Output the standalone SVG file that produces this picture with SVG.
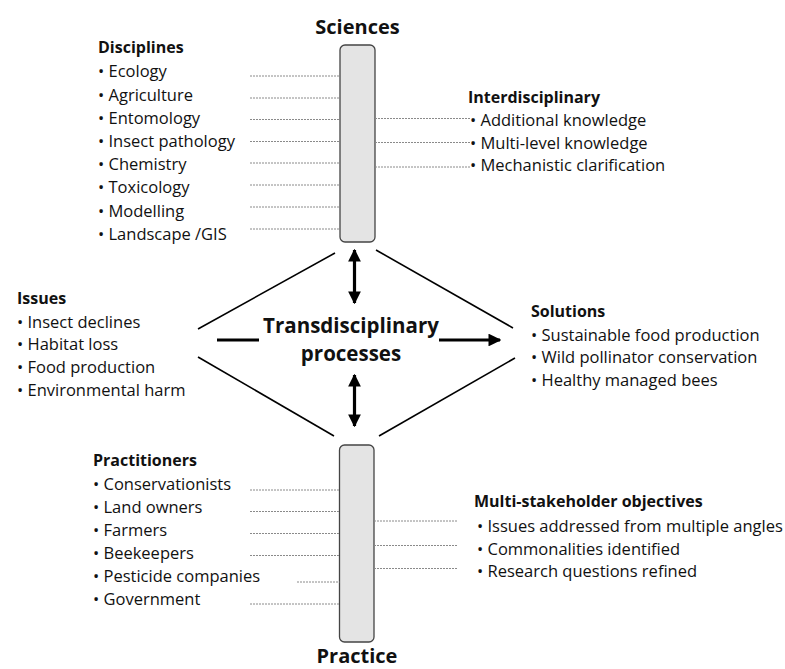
<svg xmlns="http://www.w3.org/2000/svg" width="785" height="669" viewBox="0 0 785 669">
<defs>
<style>
.t{font-family:"Open Sans","Liberation Sans",sans-serif;font-size:16.5px;fill:#111}
.h{font-family:"Open Sans","Liberation Sans",sans-serif;font-size:16px;font-weight:bold;fill:#111}
.big{font-family:"Open Sans","Liberation Sans",sans-serif;font-size:20px;font-weight:bold;fill:#111;text-anchor:middle}
.mid{font-family:"Open Sans","Liberation Sans",sans-serif;font-size:20.5px;font-weight:bold;fill:#111;text-anchor:middle}
.bar{fill:#e4e4e4;stroke:#444;stroke-width:1.3}
.dot{stroke:#8a8a8a;stroke-width:1;stroke-dasharray:2 1;fill:none}
.ln{stroke:#000;stroke-width:1.6;fill:none}
.thick{stroke:#000;stroke-width:3.2;fill:none}
</style>
<marker id="ah" viewBox="0 0 10 10" refX="9" refY="5" markerWidth="4" markerHeight="4" orient="auto-start-reverse" markerUnits="strokeWidth">
<path d="M0,0 L10,5 L0,10 Z" fill="#000"/>
</marker>
</defs>
<rect width="785" height="669" fill="#fff"/>

<g id="sciences">
<rect class="bar" x="340" y="45" width="35" height="197" rx="5"/>
<text class="big" x="357.5" y="34">Sciences</text>
</g>

<g id="practice">
<rect class="bar" x="339.5" y="445" width="34.5" height="197" rx="5"/>
<text class="big" x="357" y="663">Practice</text>
</g>

<g id="disciplines">
<text class="h" x="98" y="53">Disciplines</text>
<text class="t" x="98" y="77">• Ecology</text>
<text class="t" x="98" y="100.5">• Agriculture</text>
<text class="t" x="98" y="123.5">• Entomology</text>
<text class="t" x="98" y="146.5">• Insect pathology</text>
<text class="t" x="98" y="170">• Chemistry</text>
<text class="t" x="98" y="193">• Toxicology</text>
<text class="t" x="98" y="216.5">• Modelling</text>
<text class="t" x="98" y="239.5">• Landscape /GIS</text>
</g>

<g id="interdisciplinary">
<text class="h" x="468" y="103">Interdisciplinary</text>
<text class="t" x="470" y="126">• Additional knowledge</text>
<text class="t" x="470" y="148.5">• Multi-level knowledge</text>
<text class="t" x="470" y="171">• Mechanistic clarification</text>
</g>

<g id="issues">
<text class="h" x="17" y="304">Issues</text>
<text class="t" x="17" y="327.5">• Insect declines</text>
<text class="t" x="17" y="350">• Habitat loss</text>
<text class="t" x="17" y="372.5">• Food production</text>
<text class="t" x="17" y="395.5">• Environmental harm</text>
</g>

<g id="transdisciplinary">
<text class="mid" x="351" y="333">Transdisciplinary</text>
<text class="mid" x="351" y="361">processes</text>
</g>

<g id="solutions">
<text class="h" x="531" y="317">Solutions</text>
<text class="t" x="531" y="340.5">• Sustainable food production</text>
<text class="t" x="531" y="363">• Wild pollinator conservation</text>
<text class="t" x="531" y="386">• Healthy managed bees</text>
</g>

<g id="practitioners">
<text class="h" x="93" y="466">Practitioners</text>
<text class="t" x="93" y="490">• Conservationists</text>
<text class="t" x="93" y="513">• Land owners</text>
<text class="t" x="93" y="536">• Farmers</text>
<text class="t" x="93" y="559">• Beekeepers</text>
<text class="t" x="93" y="582">• Pesticide companies</text>
<text class="t" x="93" y="605">• Government</text>
</g>

<g id="objectives">
<text class="h" x="474" y="507">Multi-stakeholder objectives</text>
<text class="t" x="477" y="532">• Issues addressed from multiple angles</text>
<text class="t" x="477" y="554.5">• Commonalities identified</text>
<text class="t" x="477" y="577">• Research questions refined</text>
</g>

<g id="connectors">
<line class="dot" x1="250" y1="76" x2="340" y2="76"/>
<line class="dot" x1="250" y1="98" x2="340" y2="98"/>
<line class="dot" x1="250" y1="119.5" x2="340" y2="119.5"/>
<line class="dot" x1="250" y1="141.5" x2="340" y2="141.5"/>
<line class="dot" x1="250" y1="163" x2="340" y2="163"/>
<line class="dot" x1="250" y1="185" x2="340" y2="185"/>
<line class="dot" x1="250" y1="207" x2="340" y2="207"/>
<line class="dot" x1="250" y1="229" x2="340" y2="229"/>
<line class="dot" x1="375" y1="118.5" x2="471" y2="118.5"/>
<line class="dot" x1="375" y1="142.5" x2="471" y2="142.5"/>
<line class="dot" x1="375" y1="167" x2="471" y2="167"/>
<line class="dot" x1="250" y1="490" x2="339.5" y2="490"/>
<line class="dot" x1="250" y1="511.5" x2="339.5" y2="511.5"/>
<line class="dot" x1="250" y1="533.5" x2="339.5" y2="533.5"/>
<line class="dot" x1="250" y1="555.5" x2="339.5" y2="555.5"/>
<line class="dot" x1="297" y1="582" x2="339.5" y2="582"/>
<line class="dot" x1="250" y1="604" x2="339.5" y2="604"/>
<line class="dot" x1="374" y1="521" x2="458" y2="521"/>
<line class="dot" x1="374" y1="545.5" x2="458" y2="545.5"/>
<line class="dot" x1="374" y1="568.5" x2="458" y2="568.5"/>

<line class="ln" x1="198" y1="329" x2="335" y2="253"/>
<line class="ln" x1="376" y1="250" x2="513" y2="328"/>
<line class="ln" x1="198" y1="357" x2="334" y2="436"/>
<line class="ln" x1="515" y1="358" x2="379" y2="436"/>

<line class="thick" x1="217" y1="340" x2="259" y2="340"/>
<line class="thick" x1="439" y1="340" x2="500" y2="340" marker-end="url(#ah)"/>
<line class="thick" x1="354.5" y1="250" x2="354.5" y2="303" marker-start="url(#ah)" marker-end="url(#ah)"/>
<line class="thick" x1="354.5" y1="375" x2="354.5" y2="426" marker-start="url(#ah)" marker-end="url(#ah)"/>
</g>
</svg>
